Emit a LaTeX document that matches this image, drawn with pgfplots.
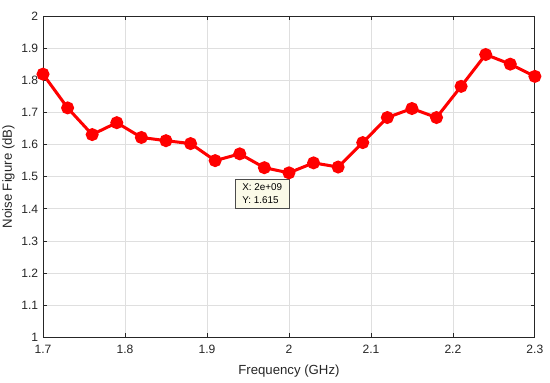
\documentclass[border=0pt]{standalone}
\usepackage{fontspec}
\setmainfont{Liberation Sans}
\usepackage{pgfplots}
\pgfplotsset{compat=1.18}
\definecolor{axgray}{HTML}{262626}
\definecolor{gridgray}{HTML}{DFDFDF}
\definecolor{tipbg}{HTML}{FBFAE8}
\begin{document}
\begin{tikzpicture}
\begin{axis}[
  scale only axis,
  width=358pt, height=234pt,
  xmin=1.7, xmax=2.3, ymin=1, ymax=2,
  xtick={1.7,1.8,...,2.3},
  ytick={1,1.1,...,2},
  xticklabels={1.7,1.8,1.9,2,2.1,2.2,2.3},
  yticklabels={1,1.1,1.2,1.3,1.4,1.5,1.6,1.7,1.8,1.9,2},
  grid=major,
  major grid style={gridgray, line width=0.6pt},
  axis line style={axgray, line width=0.6pt},
  tick style={axgray, line width=0.6pt},
  tick align=inside,
  major tick length=3pt,
  tick label style={font=\fontsize{8.8}{10}\selectfont, text=axgray},
  label style={font=\fontsize{9.6}{11}\selectfont, text=axgray},
  xlabel={Frequency (GHz)},
  ylabel={Noise Figure (dB)},
  xlabel style={at={(axis description cs:0.5,0)}, anchor=center, yshift=-24.5pt},
  ylabel style={yshift=-2pt},
  xticklabel style={yshift=-2.3pt},
  clip=false,
]
\addplot[red, line width=2.2pt, mark=*, mark size=3.6pt, mark options={solid, fill=red}]
coordinates {
(1.70,1.819)(1.73,1.714)(1.76,1.631)(1.79,1.668)(1.82,1.622)(1.85,1.612)
(1.88,1.603)(1.91,1.550)(1.94,1.571)(1.97,1.528)(2.00,1.512)(2.03,1.543)
(2.06,1.530)(2.09,1.606)(2.12,1.684)(2.15,1.712)(2.18,1.684)(2.21,1.781)
(2.24,1.880)(2.27,1.850)(2.30,1.812)
};
\node[anchor=north west, draw=black!70, fill=tipbg, line width=0.4pt,
  font=\fontsize{7.2}{9.5}\selectfont, align=left, inner sep=2.5pt,
  minimum width=40pt, minimum height=21.5pt]
  at (axis cs:1.9336,1.494) {X: 2e+09\\Y: 1.615};
\end{axis}
\pgfresetboundingbox
\path (current axis.south west) ++(-31.3pt,-32.7pt) coordinate (bl);
\path (current axis.north east) ++(11pt,11.6pt) coordinate (tr);
\path (bl) rectangle (tr);
\end{tikzpicture}
\end{document}
